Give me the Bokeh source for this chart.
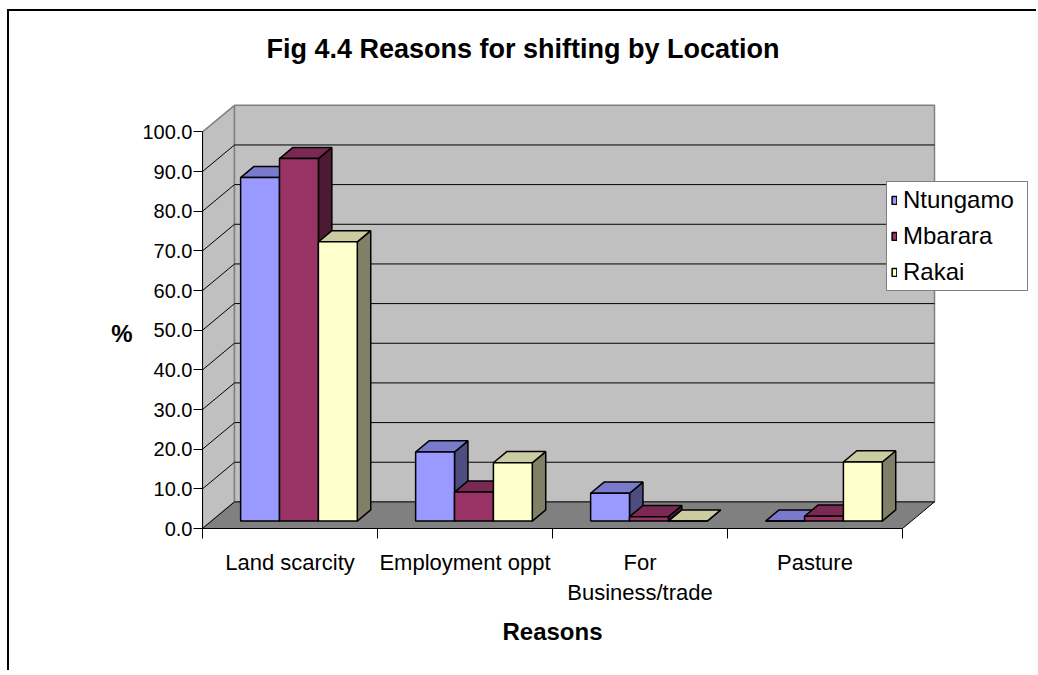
from bokeh.plotting import figure
from bokeh.models import Range1d, FixedTicker, PrintfTickFormatter, Legend, LegendItem, LinearAxis
from bokeh.core.properties import value
from bokeh.embed import file_html
from bokeh.resources import INLINE

# ---------------- data ----------------
categories = ["Land scarcity", "Employment oppt", "For\nBusiness/trade", "Pasture"]
series_names = ["Ntungamo", "Mbarara", "Rakai"]
ntungamo = [86.6, 17.4, 7.0, 0.0]
mbarara = [91.4, 7.3, 1.1, 1.2]
rakai = [70.4, 14.7, 0.0, 14.9]
y_ticks = [0, 10, 20, 30, 40, 50, 60, 70, 80, 90, 100]
title_text = "Fig 4.4 Reasons for shifting by Location"
x_title = "Reasons"
y_title = "%"

# ---------------- styles ----------------
front_colors = ["#9999FF", "#993366", "#FFFFCC"]
top_colors = ["#7A7ACC", "#7A2952", "#CCCCA3"]
side_colors = ["#4D4D80", "#4D1A33", "#808066"]
FONT = "Liberation Sans"

W, H = 1036, 670
LEFT, BOTTOM = 202, 142
PX_PER_CAT = 175.0
PX_PER_VAL = 3.966
DX = 32.0 / PX_PER_CAT          # depth offset (x, category units)
DY = 26.6 / PX_PER_VAL          # depth offset (y, value units)
BW = 1 / 4.5                    # bar width (gap width 150%)
GAP = 0.75 * BW
D0, D1 = 0.28, 0.70             # bar depth span (fraction of full depth)

n = len(categories)
vmax = max(y_ticks)
x_end = (W - LEFT) / PX_PER_CAT
y_end = (H - BOTTOM) / PX_PER_VAL


def cx(px):  # canvas x pixel -> data x
    return (px - LEFT) / PX_PER_CAT


def cy(py):  # canvas y pixel -> data y
    return (H - BOTTOM - py) / PX_PER_VAL


border_css = {
    "background-color": "white",
    "background-image": "linear-gradient(#000, #000), linear-gradient(#000, #000)",
    "background-size": "2px 100%, 100% 2px",
    "background-position": "7px 9px, 7px 9px",
    "background-repeat": "no-repeat",
}

p = figure(width=W, height=H, x_range=Range1d(0, x_end), y_range=Range1d(0, y_end),
           output_backend="svg", toolbar_location=None,
           min_border_left=LEFT, min_border_bottom=BOTTOM, min_border_top=0, min_border_right=0,
           styles=border_css)
p.background_fill_alpha = 0
p.border_fill_alpha = 0
p.outline_line_color = None
p.xgrid.visible = False
p.ygrid.visible = False

# walls
p.patches([[0, DX, DX, 0], [DX, n + DX, n + DX, DX]],
          [[0, DY, DY + vmax, vmax], [DY, DY, DY + vmax, DY + vmax]],
          fill_color="#C0C0C0", line_color="#808080", line_width=1.5)
# floor
p.patch([0, n, n + DX, DX], [0, 0, DY, DY], fill_color="#808080", line_color="black", line_width=1)

# gridlines
gx, gy = [], []
for t in y_ticks[1:-1]:
    gx.append([0, DX, n + DX])
    gy.append([t, t + DY, t + DY])
p.multi_line(gx, gy, line_color="black", line_width=1)

# bars
all_series = [ntungamo, mbarara, rakai]
ddx = (D1 - D0) * DX
ddy = (D1 - D0) * DY
legend_items = []
for j, vals in enumerate(all_series):
    fx, fy, tx, ty, sx, sy = [], [], [], [], [], []
    for i, v in enumerate(vals):
        x0 = i + GAP + j * BW + D0 * DX
        x1 = x0 + BW
        y0 = D0 * DY
        y1 = y0 + v
        fx.append([x0, x1, x1, x0]); fy.append([y0, y0, y1, y1])
        tx.append([x0, x1, x1 + ddx, x0 + ddx]); ty.append([y1, y1, y1 + ddy, y1 + ddy])
        sx.append([x1, x1 + ddx, x1 + ddx, x1]); sy.append([y0, y0 + ddy, y1 + ddy, y1])
    p.patches(sx, sy, fill_color=side_colors[j], line_color="black", line_width=1.5)
    p.patches(tx, ty, fill_color=top_colors[j], line_color="black", line_width=1.5)
    fr = p.patches(fx, fy, fill_color=front_colors[j], line_color="black", line_width=1.5)
    legend_items.append(LegendItem(label=series_names[j], renderers=[fr]))

# title
p.text(x=[cx(522.5)], y=[cy(48)], text=[title_text],
       text_font=value(FONT), text_font_style="bold", text_font_size="27px",
       text_align="center", text_baseline="middle", text_color="black")

# legend
legend = Legend(items=legend_items, location=(684, 237))
legend.border_line_color = "black"
legend.border_line_width = 1
legend.background_fill_color = "white"
legend.background_fill_alpha = 1
legend.label_text_font = FONT
legend.label_text_font_size = "24px"
legend.label_text_color = "black"
legend.glyph_width = 6
legend.glyph_height = 10
legend.label_standoff = 6
legend.label_width = 120
legend.padding = 4
legend.spacing = 8
legend.margin = 0
p.add_layout(legend, "center")

# y axis
ya = p.yaxis[0]
ya.ticker = FixedTicker(ticks=y_ticks, minor_ticks=[])
ya.formatter = PrintfTickFormatter(format="%.1f")
ya.bounds = (0, vmax)
ya.major_tick_out = 9
ya.major_tick_in = 0
ya.minor_tick_out = 0
ya.minor_tick_in = 0
ya.major_label_standoff = 1
ya.major_label_text_font = FONT
ya.major_label_text_font_size = "20px"
ya.major_label_text_color = "black"
ya.axis_line_color = "black"
ya.major_tick_line_color = "black"

# y axis title: horizontal label of an outer axis, at the middle of the value axis
pct_pos = cy(333)
ya2 = LinearAxis(ticker=FixedTicker(ticks=[pct_pos], minor_ticks=[]),
                 major_label_overrides={pct_pos: y_title})
ya2.axis_line_color = None
ya2.major_tick_line_color = None
ya2.minor_tick_line_color = None
ya2.major_tick_out = 0
ya2.major_tick_in = 0
ya2.major_label_standoff = 7
ya2.major_label_text_font = FONT
ya2.major_label_text_font_style = "bold"
ya2.major_label_text_font_size = "24px"
ya2.major_label_text_color = "black"
p.add_layout(ya2, "left")

# x axis
xa = p.xaxis[0]
xa.ticker = FixedTicker(ticks=[i + 0.5 for i in range(n)], minor_ticks=list(range(n + 1)))
xa.major_label_overrides = {i + 0.5: c for i, c in enumerate(categories)}
xa.bounds = (0, n)
xa.major_tick_out = 0
xa.major_tick_in = 0
xa.minor_tick_out = 10
xa.minor_tick_in = 0
xa.minor_tick_line_color = "black"
xa.major_label_standoff = 11
xa.major_label_text_font = FONT
xa.major_label_text_font_size = "22px"
xa.major_label_text_color = "black"
xa.axis_line_color = "black"

# x axis title: label of an outer axis, centred under the category axis
xa2 = LinearAxis(ticker=FixedTicker(ticks=[n / 2], minor_ticks=[]),
                 major_label_overrides={n / 2: x_title})
xa2.axis_line_color = None
xa2.major_tick_line_color = None
xa2.minor_tick_line_color = None
xa2.major_tick_out = 0
xa2.major_tick_in = 0
xa2.major_label_standoff = 10
xa2.major_label_text_font = FONT
xa2.major_label_text_font_style = "bold"
xa2.major_label_text_font_size = "24px"
xa2.major_label_text_color = "black"
p.add_layout(xa2, "below")

open("out.html", "w").write(file_html(p, INLINE))
